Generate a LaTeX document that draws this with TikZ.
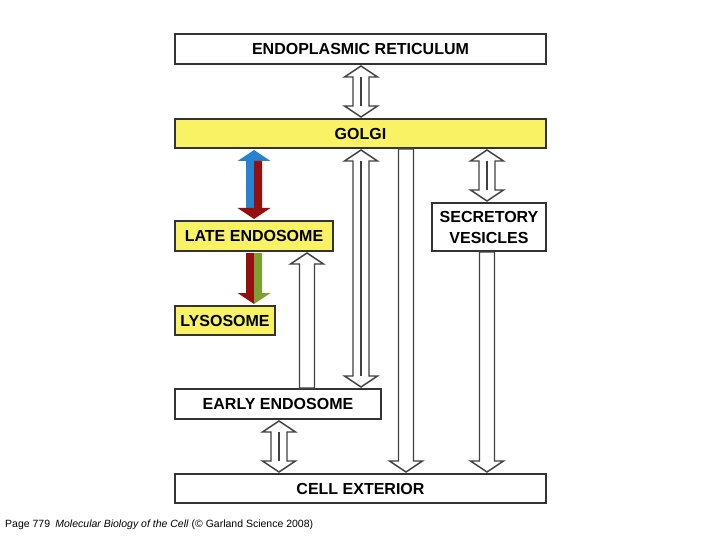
\documentclass[tikz,border=0pt]{standalone}
\usepackage{fontspec}
\setmainfont{Liberation Sans}
\begin{document}
\begin{tikzpicture}[x=1pt,y=-1pt,
  box/.style={draw=black!80,line width=1.5pt,fill=white,inner sep=0,font=\bfseries\fontsize{16}{21}\selectfont,align=center},
  ybox/.style={box,fill=yel},
  arr/.style={draw=black!75,line width=1.4pt,fill=white,line join=miter}]
\definecolor{yel}{RGB}{248,242,100}
\definecolor{ab}{RGB}{40,130,210}
\definecolor{ar}{RGB}{150,15,15}
\definecolor{ag}{RGB}{125,160,50}
\useasboundingbox (0,0) rectangle (720,540);
\def\bx#1#2#3#4#5#6#7{\node[#1,minimum width=#4-#3,minimum height=#6-#5] (#2) at ({(#3+#4)/2},{(#5+#6)/2}) {#7};}
\bx{box}{er}{175}{546}{34}{64}{ENDOPLASMIC RETICULUM}
\bx{ybox}{golgi}{175}{546}{119}{148}{GOLGI}
\bx{ybox}{late}{175}{333}{221}{251}{LATE ENDOSOME}
\bx{box}{sec}{432}{546}{203}{251}{SECRETORY\\VESICLES}
\bx{ybox}{lys}{175}{275}{306}{335}{LYSOSOME}
\bx{box}{early}{175}{381}{389}{419}{EARLY ENDOSOME}
\bx{box}{cell}{175}{546}{474}{503}{CELL EXTERIOR}
% bidirectional
\newcommand\biarr[3]{%
 \draw[arr] (#1,#2) -- ++(16.5,11) -- ++(-8.5,0) -- (#1+8,#3-11) -- ++(8.5,0) -- (#1,#3) -- ++(-16.5,-11) -- ++(8.5,0) -- (#1-8,#2+11) -- ++(-8.5,0) -- cycle;
 \draw[arr] (#1,#2+11) -- (#1,#3-11);}
\newcommand\downarr[3]{%
 \draw[arr] (#1-7.5,#2) -- (#1+7.5,#2) -- (#1+7.5,#3-11) -- ++(9,0) -- (#1,#3) -- ++(-16.5,-11) -- ++(9,0) -- cycle;}
\newcommand\uparr[3]{%
 \draw[arr] (#1-7.5,#3) -- (#1+7.5,#3) -- (#1+7.5,#2+11) -- ++(9,0) -- (#1,#2) -- ++(-16.5,11) -- ++(9,0) -- cycle;}
\biarr{361}{66}{117}
\biarr{361}{150}{387}
\biarr{487}{150}{201}
\biarr{279}{421}{472}
\downarr{406}{149}{472}
\downarr{487}{252}{472}
\uparr{307}{253}{388}
% coloured arrows
\fill[ab] (254,150) -- (270.5,161) -- (254,161) -- cycle;
\fill[ab] (254,150) -- (237.5,161) -- (246,161) -- (246,208) -- (254,208) -- cycle;
\fill[ar] (254,161) -- (262,161) -- (262,208) -- (270.5,208) -- (254,219) -- (237.5,208) -- (254,208) -- cycle;
\fill[ar] (246,253) -- (254,253) -- (254,304) -- (237.5,293) -- (246,293) -- cycle;
\fill[ag] (254,253) -- (262,253) -- (262,293) -- (270.5,293) -- (254,304) -- cycle;
\node[anchor=west,font=\fontsize{10.5}{12}\selectfont,inner sep=0] (cap) at (5,525) {Page 779\enspace\textit{Molecular Biology of the Cell} (© Garland Science 2008)};
\end{tikzpicture}
\end{document}
